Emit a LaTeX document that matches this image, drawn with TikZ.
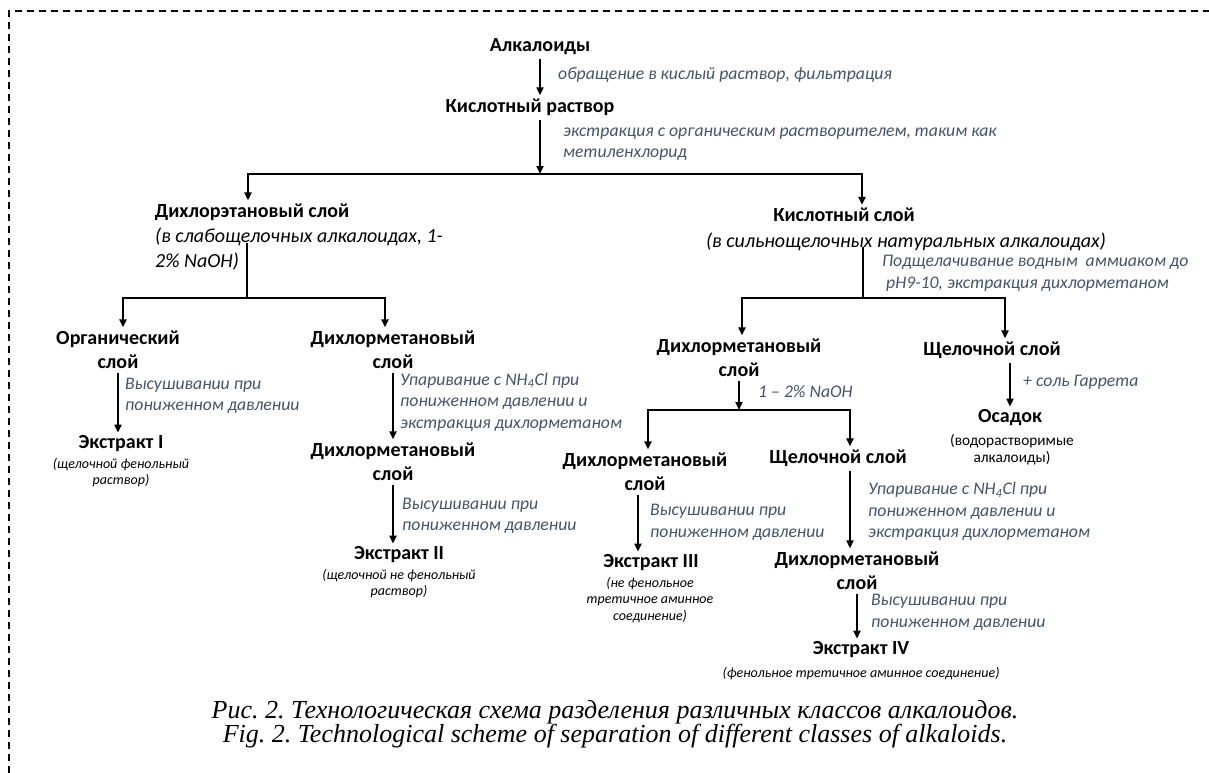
\documentclass[tikz,border=0pt]{standalone}
\usepackage{fontspec}
\setmainfont{Carlito}
\newfontfamily\capfont{Liberation Serif}
\usetikzlibrary{arrows.meta}
\definecolor{notegray}{RGB}{68,84,106}
\frenchspacing

\begin{document}
\begin{tikzpicture}[x=1pt,y=-1pt]
% Node styles ---
\tikzstyle{stage} = [inner sep=0pt, align=center, font=\fontsize{20}{24}\selectfont\bfseries] % Stages
\tikzstyle{cond} = [inner sep=0pt, anchor=west, align=left, text=notegray, font=\fontsize{17.7}{21.5}\selectfont\itshape] % Conditions
\tikzstyle{remark} = [inner sep=0pt, align=left, font=\fontsize{20}{25}\selectfont\itshape] % Remarks under layers
\tikzstyle{prod} = [inner sep=0pt, align=center, font=\fontsize{14}{16.5}\selectfont\itshape] % Product notes
% Edge styles
\tikzstyle{con} = [-{Triangle[length=8pt,width=7pt]}, line width=1.8pt, shorten <=4pt, shorten >=3pt] % Arrows
\tikzstyle{fork} = [{Triangle[length=8pt,width=7pt]}-{Triangle[length=8pt,width=7pt]}, line width=2pt, shorten <=3pt, shorten >=3pt] % Branches
\tikzstyle{stem} = [line width=2pt] % Stems
% Frame ---
\useasboundingbox (0,0) rectangle (1209,773);
\draw[line width=1.2pt, dash pattern=on 7pt off 5pt] (9,773) -- (9,11) -- (1209,11);
% Nodes
\node at (540,47) [stage] (alk) {Алкалоиды};
\node at (530,107) [stage] (ksr) {Кислотный раствор};
\node at (558,75) [cond] (c1) {обращение в кислый раствор, фильтрация};
\node at (563,144) [cond] (c2) {экстракция с органическим растворителем, таким как\\метиленхлорид};
\node at (252,212) [stage] (dhe) {Дихлорэтановый слой};
\node at (155,249.5) [remark, anchor=west] (dhen) {(в слабощелочных алкалоидах, 1-\\2\% NaOH)};
\node at (844,215) [stage] (ksl) {Кислотный слой};
\node at (906,242) [remark] (ksln) {(в сильнощелочных натуральных алкалоидах)};
\node at (882,273.5) [cond] (c6) {Подщелачивание водным\ \ аммиаком до\\\hspace{4pt}pH9-10, экстракция дихлорметаном};
% left branch
\node at (118,349.5) [stage] (org) {Органический\\слой};
\node at (393,349.5) [stage] (dm1) {Дихлорметановый\\слой};
\node at (125,396) [cond] (c3) {Высушивании при\\пониженном давлении};
\node at (121,444) [stage] (ex1) {Экстракт I};
\node at (121,472.5) [prod] (ex1n) {(щелочной фенольный\\раствор)};
\node at (400,402) [cond] (c4) {Упаривание с NH\textsubscript{4}Cl при\\пониженном давлении и\\экстракция дихлорметаном};
\node at (393,461.5) [stage] (dm2) {Дихлорметановый\\слой};
\node at (402,516) [cond] (c5) {Высушивании при\\пониженном давлении};
\node at (399,555) [stage] (ex2) {Экстракт II};
\node at (399,583.5) [prod] (ex2n) {(щелочной не фенольный\\раствор)};
% right branch
\node at (739,357.5) [stage] (dm3) {Дихлорметановый\\слой};
\node at (992,350) [stage] (shs1) {Щелочной слой};
\node at (1023,382) [cond] (c7) {+ соль Гаррета};
\node at (1010,418) [stage] (osd) {Осадок};
\node at (1012,449.5) [prod, font=\fontsize{15.3}{17}\selectfont] (osdn) {(водорастворимые\\алкалоиды)};
\node at (758,392) [cond] (c8) {1 – 2\% NaOH};
\node at (645,471.5) [stage] (dm4) {Дихлорметановый\\слой};
\node at (838,458) [stage] (shs2) {Щелочной слой};
\node at (650,522.5) [cond] (c9) {Высушивании при\\пониженном давлении};
\node at (651,563) [stage] (ex3) {Экстракт III};
\node at (650,600) [prod] (ex3n) {(не фенольное\\третичное аминное\\соединение)};
\node at (868,511.5) [cond] (c10) {Упаривание с NH\textsubscript{4}Cl при\\пониженном давлении и\\экстракция дихлорметаном};
\node at (857,570.5) [stage] (dm5) {Дихлорметановый\\слой};
\node at (871,612.5) [cond] (c11) {Высушивании при\\пониженном давлении};
\node at (861,650) [stage] (ex4) {Экстракт IV};
\node at (861,674) [prod] (ex4n) {(фенольное третичное аминное соединение)};
% caption
\node at (615,724) [align=center, inner sep=0pt, font=\capfont\itshape\fontsize{26}{24}\selectfont] (cap) {Рис. 2. Технологическая схема разделения различных классов алкалоидов.\\Fig. 2. Technological scheme of separation of different classes of alkaloids.};
% Branch points
\coordinate (b1) at (540,174);
\coordinate (b1l) at (248,174);
\coordinate (b1r) at (862,174);
\coordinate (d1) at (247,243);
\coordinate (b2) at (247,298);
\coordinate (b2l) at (123,298);
\coordinate (b2r) at (385,298);
\coordinate (k1) at (863,247);
\coordinate (b3) at (863,298);
\coordinate (b3l) at (742,298);
\coordinate (b3r) at (1005,298);
\coordinate (b4) at (739,410);
\coordinate (b4l) at (648,410);
\coordinate (b4r) at (850,410);
% Paths
\path (alk) edge [con] (alk |- ksr.north);
\path (ksr.south -| b1) edge [con, shorten >=0pt] (b1);
\draw [fork] (b1l |- dhe.north) -- (b1l) -- (b1r) -- (b1r |- ksl.north);
\draw [stem] (d1) -- (b2);
\draw [fork] (b2l |- org.north) -- (b2l) -- (b2r) -- (b2r |- dm1.north);
\path (org) edge [con] (org |- ex1.north);
\path (dm1) edge [con] (dm2);
\path (dm2) edge [con] (dm2 |- ex2.north);
\draw [stem] (k1) -- (b3);
\draw [fork] (b3l |- dm3.north) -- (b3l) -- (b3r) -- (b3r |- shs1.north);
\path (shs1.south -| osd) edge [con] (osd);
\path (dm3) edge [con, shorten >=0pt] (b4);
\draw [fork] (b4l |- dm4.north) -- (b4l) -- (b4r) -- (b4r |- shs2.north);
\path ([xshift=-7pt]dm4.south) edge [con] ([xshift=-7pt]dm4.south |- ex3.north);
\path (shs2.south -| b4r) edge [con] (b4r |- dm5.north);
\path (dm5) edge [con] (dm5 |- ex4.north);
\end{tikzpicture}
\end{document}
